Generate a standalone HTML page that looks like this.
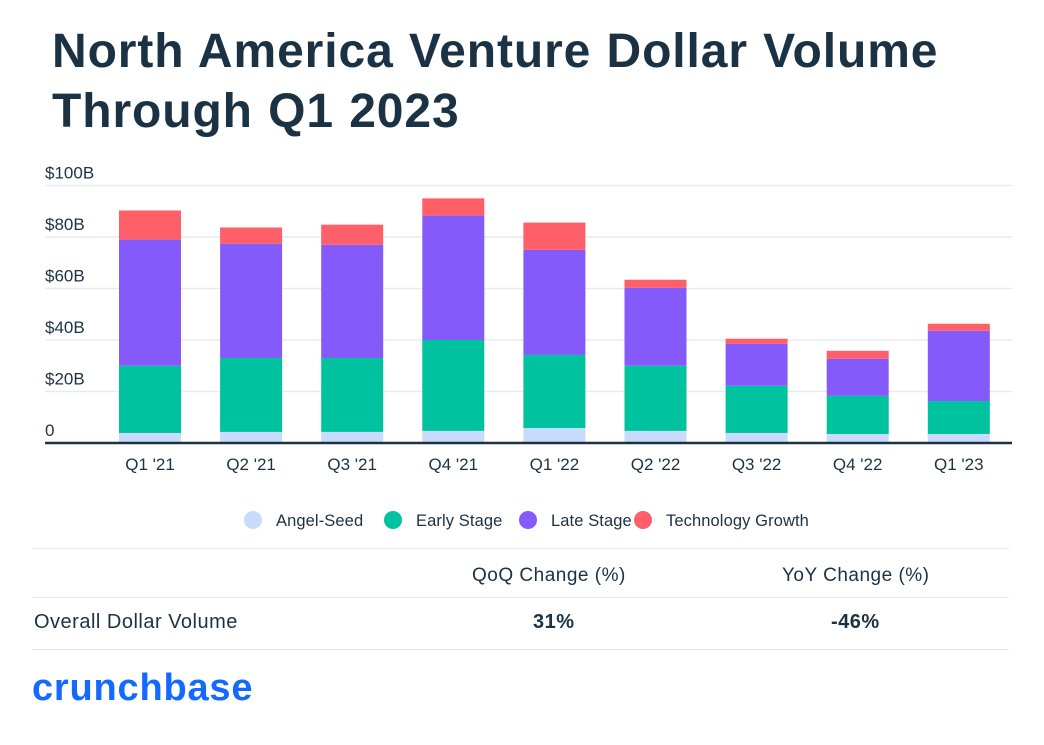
<!DOCTYPE html>
<html><head><meta charset="utf-8"><style>
body{margin:0;background:#fff;font-family:"Liberation Sans",sans-serif;color:#1b3244}
#wrap{position:relative;width:1044px;height:745px;overflow:hidden}
h1{position:absolute;left:52px;top:22px;margin:0;font-size:48px;line-height:60px;font-weight:bold;color:#1b3244;letter-spacing:0.9px;word-spacing:1px}
.t{position:absolute;font-size:19px;color:#1b3244;letter-spacing:0.5px}
.hr{position:absolute;left:32px;width:977px;height:1px;background:#e6e8ec}
</style></head><body><div id="wrap">
<h1>North America Venture Dollar Volume<br>Through Q1 2023</h1>
<svg id="chart" width="1044" height="540" style="position:absolute;left:0;top:0"></svg>
<div class="hr" style="top:548px"></div>
<div class="t" style="left:472px;top:565px">QoQ Change (%)</div>
<div class="t" style="left:782px;top:565px">YoY Change (%)</div>
<div class="hr" style="top:597px"></div>
<div class="t" style="left:34px;top:611px;font-size:20px">Overall Dollar Volume</div>
<div class="t" style="left:533px;top:611px;font-size:20px;font-weight:bold">31%</div>
<div class="t" style="left:831px;top:611px;font-size:20px;font-weight:bold">-46%</div>
<div class="hr" style="top:649px"></div>
<div style="position:absolute;left:32px;top:667px;font-size:38px;font-weight:bold;color:#146aff;letter-spacing:0.8px">crunchbase</div>
</div>
<script>
const categories=["Q1 '21","Q2 '21","Q3 '21","Q4 '21","Q1 '22","Q2 '22","Q3 '22","Q4 '22","Q1 '23"];
const angelSeed=[3.9,4.3,4.3,4.7,5.8,4.7,3.9,3.5,3.5];
const earlyStage=[26.1,28.7,28.7,35.3,28.4,25.3,18.3,14.8,12.8];
const lateStage=[49,44.4,44,48.3,40.8,30.3,16.3,14.4,27.3];
const techGrowth=[11.3,6.3,7.8,6.7,10.6,3.1,2,3.1,2.7];
const yTicks=[0,20,40,60,80,100];
const yTickLabels=["0","$20B","$40B","$60B","$80B","$100B"];
const seriesNames=["Angel-Seed","Early Stage","Late Stage","Technology Growth"];
const colors=["#c9dbfb","#00c29f","#845afb","#ff5f68"];
const svg=document.getElementById('chart');
const NS="http://www.w3.org/2000/svg";
const y=v=>443-v*2.575;
const x=i=>150+i*101.1;
function mk(t,a){const e=document.createElementNS(NS,t);for(const k in a)e.setAttribute(k,a[k]);svg.appendChild(e);return e;}
yTicks.forEach((v,i)=>{
 if(v>0){const g=mk('line',{x1:45,x2:1012,y1:y(v),y2:y(v),stroke:'#e8eaee','stroke-width':1.5});
 
 }
 const t=mk('text',{x:45,y:y(v)-7,'font-size':17,fill:'#1b3244'});t.textContent=yTickLabels[i];
 
 
});
const series=[angelSeed,earlyStage,lateStage,techGrowth];
categories.forEach((c,i)=>{
 let base=0;
 series.forEach((s,k)=>{
  const r=mk('rect',{x:x(i)-31,width:62,y:y(base+s[i]),height:s[i]*2.575,fill:colors[k]});
  
  
  base+=s[i];
 });
 const t=mk('text',{x:x(i),y:470,'font-size':17,fill:'#1b3244','text-anchor':'middle'});t.textContent=c;
 
 
});
const ax=mk('line',{x1:45,x2:1012,y1:443,y2:443,stroke:'#1b3244','stroke-width':2.5});


const lx=[253,393,528,643];
seriesNames.forEach((n,k)=>{
 const c=mk('circle',{cx:lx[k],cy:520,r:9,fill:colors[k]});
 
 
 const t=mk('text',{x:lx[k]+23,y:526,'font-size':16.5,fill:'#1b3244','letter-spacing':0.1});t.textContent=n;
 
 
});
</script></body></html>
